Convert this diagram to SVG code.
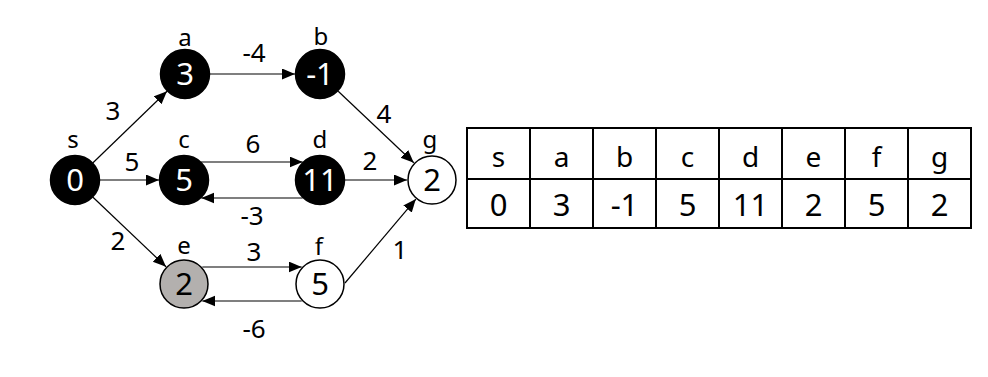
<svg xmlns="http://www.w3.org/2000/svg" width="988" height="377" viewBox="0 0 988 377">
<defs>
<marker id="arr" markerUnits="userSpaceOnUse" markerWidth="14" markerHeight="12" refX="13" refY="5.5" orient="auto">
<path d="M0,0 L13,5.5 L0,11 z" fill="#000"/>
</marker>
<style>
text{font-family:"Noto Sans","Open Sans","DejaVu Sans",sans-serif;text-anchor:middle;fill:#000}
.lbl{font-size:24px}
.num{font-size:31px}
.num.w{fill:#fff}
.el{font-size:26px}
.edge{stroke:#000;stroke-width:1.2;fill:none;marker-end:url(#arr)}
.blk{fill:#000;stroke:#000;stroke-width:1.5}
.wht{fill:#fff;stroke:#000;stroke-width:1.5}
.gry{fill:#b3b0ae;stroke:#000;stroke-width:1.5}
.tb{font-size:28px}
.tn{font-size:31px}
.grid{stroke:#000;stroke-width:2;fill:none}
</style>
</defs>
<rect width="988" height="377" fill="#fff"/>
<g id="connectors">
<line class="edge" x1="93" y1="162.7" x2="167" y2="91.3"/>
<line class="edge" x1="100" y1="180" x2="159" y2="180"/>
<line class="edge" x1="93" y1="197.3" x2="166" y2="266.7"/>
<line class="edge" x1="210" y1="74" x2="295" y2="74"/>
<line class="edge" x1="201" y1="162" x2="302.7" y2="162"/>
<line class="edge" x1="302.7" y1="198" x2="201.3" y2="198"/>
<line class="edge" x1="338.2" y1="91.2" x2="413.8" y2="162.8"/>
<line class="edge" x1="345" y1="180" x2="407" y2="180"/>
<line class="edge" x1="202.3" y1="267" x2="301.7" y2="267"/>
<line class="edge" x1="301.7" y1="301" x2="202.3" y2="301"/>
<line class="edge" x1="345" y1="283" x2="415.9" y2="199.1"/>
<text class="el" x="113" y="120">3</text>
<text class="el" x="132" y="171">5</text>
<text class="el" x="118" y="250">2</text>
<text class="el" x="254" y="62">-4</text>
<text class="el" x="253" y="153">6</text>
<text class="el" x="252" y="225">-3</text>
<text class="el" x="384" y="123">4</text>
<text class="el" x="370" y="170">2</text>
<text class="el" x="254" y="261">3</text>
<text class="el" x="254" y="338">-6</text>
<text class="el" x="400" y="259">1</text>
</g>
<g id="node-s"><circle class="blk" cx="75" cy="180" r="24.5"/><text class="lbl" x="73" y="148">s</text><text class="num w" x="75" y="191">0</text></g>
<g id="node-a"><circle class="blk" cx="185" cy="74" r="24.5"/><text class="lbl" x="185" y="46">a</text><text class="num w" x="185" y="85">3</text></g>
<g id="node-b"><circle class="blk" cx="320" cy="74" r="24.5"/><text class="lbl" x="321" y="45">b</text><text class="num w" x="320" y="85">-1</text></g>
<g id="node-c"><circle class="blk" cx="184" cy="180" r="24.5"/><text class="lbl" x="184" y="148">c</text><text class="num w" x="184" y="191">5</text></g>
<g id="node-d"><circle class="blk" cx="320" cy="180" r="24.5"/><text class="lbl" x="320" y="148">d</text><text class="num w" x="320" y="191">11</text></g>
<g id="node-g"><circle class="wht" cx="432" cy="180" r="24"/><text class="lbl" x="430" y="148">g</text><text class="num" x="432" y="191">2</text></g>
<g id="node-e"><circle class="gry" cx="184" cy="284" r="24"/><text class="lbl" x="184" y="254">e</text><text class="num" x="184" y="295">2</text></g>
<g id="node-f"><circle class="wht" cx="320" cy="284" r="24"/><text class="lbl" x="319" y="255">f</text><text class="num" x="320" y="295">5</text></g>
<g id="table">
<rect class="grid" x="467" y="128" width="504" height="100"/>
<line class="grid" x1="467" y1="179" x2="971" y2="179"/>
<path class="grid" d="M530,128V228M593,128V228M656,128V228M719,128V228M782,128V228M845,128V228M908,128V228"/>
<g class="tb">
<text x="498.5" y="167">s</text><text x="561.5" y="167">a</text><text x="624.5" y="167">b</text><text x="687.5" y="167">c</text>
<text x="750.5" y="167">d</text><text x="813.5" y="167">e</text><text x="876.5" y="167">f</text><text x="939.5" y="167">g</text>
</g>
<g class="tn">
<text x="498.5" y="216">0</text><text x="561.5" y="216">3</text><text x="624.5" y="216">-1</text><text x="687.5" y="216">5</text>
<text x="750.5" y="216">11</text><text x="813.5" y="216">2</text><text x="876.5" y="216">5</text><text x="939.5" y="216">2</text>
</g>
</g>
</svg>
